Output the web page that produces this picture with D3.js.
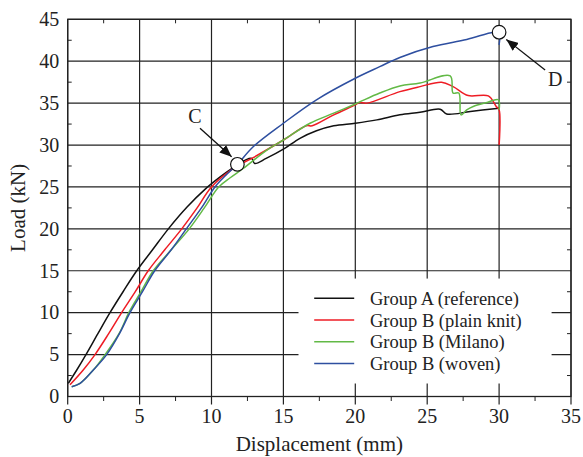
<!DOCTYPE html>
<html>
<head>
<meta charset="utf-8">
<script src="https://cdn.jsdelivr.net/npm/d3@7"></script>
<style>
  body { margin: 0; background: #fff; }
  text { font-family: "Liberation Serif", "Times New Roman", serif; fill: #222; }
</style>
</head>
<body>
<svg id="chart" width="583" height="457"></svg>
<script>
// values (displacement in mm, load in kN)
var groupAX = [0.04, 0.63, 1.27, 2.1, 2.94, 3.85, 4.8, 5.9, 7.0, 8.3, 9.6, 10.6, 11.4, 12.35, 12.8, 13.0, 13.8, 15.0, 16.15, 17.3, 18.5, 20.0, 21.5, 23.1, 24.5, 25.9, 26.35, 28.0, 30.0];
var groupAY = [1.57, 3.16, 5.0, 7.5, 10.0, 12.5, 15.0, 17.5, 20.0, 22.6, 24.8, 26.2, 27.2, 28.2, 28.4, 27.8, 28.4, 29.5, 30.8, 31.7, 32.3, 32.6, 33.0, 33.6, 33.9, 34.27, 33.7, 34.0, 34.4];

var plainKnitX = [0.16, 1.08, 1.9, 2.85, 3.75, 4.7, 5.6, 6.75, 7.93, 9.0, 10.0, 11.6, 12.9, 15.0, 16.6, 17.0, 18.5, 20.0, 20.3, 20.8, 23.1, 24.5, 26.0, 26.8, 27.85, 29.25, 29.8, 30.0, 30.0];
var plainKnitY = [1.4, 3.16, 5.0, 7.5, 10.0, 12.5, 15.0, 17.5, 20.0, 22.5, 25.0, 27.3, 28.5, 30.6, 32.3, 32.3, 33.6, 34.8, 35.06, 35.0, 36.37, 36.97, 37.5, 36.97, 35.9, 35.86, 34.6, 34.2, 30.0];

var milanoX = [0.28, 0.86, 1.78, 2.6, 3.6, 4.25, 5.1, 5.95, 7.2, 8.45, 9.5, 10.5, 11.3, 12.2, 13.85, 15.0, 16.85, 18.5, 20.0, 21.7, 23.1, 24.5, 26.6, 26.8, 27.2, 27.35, 27.75, 28.2, 29.1, 29.95, 30.0];
var milanoY = [1.17, 1.57, 3.16, 5.0, 7.6, 10.0, 12.5, 15.0, 17.5, 20.0, 22.5, 25.0, 26.1, 27.2, 29.4, 30.6, 32.6, 33.8, 34.9, 36.2, 37.05, 37.4, 38.25, 36.2, 36.2, 33.6, 34.2, 34.6, 35.05, 35.4, 34.2];

var wovenX = [0.28, 0.86, 1.78, 2.71, 3.6, 4.33, 5.2, 6.05, 7.2, 8.25, 9.3, 10.24, 11.0, 11.8, 12.9, 15.0, 17.3, 20.0, 21.7, 23.1, 25.4, 27.75, 29.6, 30.0, 30.0];
var wovenY = [1.17, 1.57, 3.16, 5.0, 7.5, 10.0, 12.5, 15.0, 17.5, 20.0, 22.5, 25.0, 26.4, 27.7, 29.8, 32.6, 35.4, 37.97, 39.35, 40.45, 41.75, 42.6, 43.46, 43.46, 41.95];

var seriesNames = ["Group A (reference)", "Group B (plain knit)", "Group B (Milano)", "Group B (woven)"];
var seriesColors = ["#111111", "#ee1c24", "#62b946", "#2e4fa0"];

var xTicks = [0, 5, 10, 15, 20, 25, 30, 35];
var yTicks = [0, 5, 10, 15, 20, 25, 30, 35, 40, 45];

// annotation points C and D, with arrow start/tip and label position
var annotations = [
  { label: "C", px: 11.8, py: 27.7, fromX: 9.2, fromY: 32.0, toX: 11.4, toY: 28.6, textX: 8.85, textY: 32.6 },
  { label: "D", px: 30.0, py: 43.46, fromX: 33.2, fromY: 38.96, toX: 30.5, toY: 42.6, textX: 33.9, textY: 37.05 }
];

var margin = { top: 19.3, right: 12, bottom: 60.5, left: 67.7 };
var width = 583 - margin.left - margin.right;
var height = 457 - margin.top - margin.bottom;

var svg = d3.select("#chart")
  .append("g")
  .attr("transform", "translate(" + margin.left + "," + margin.top + ")");

var xScale = d3.scaleLinear().domain([0, 35]).range([0, width]);
var yScale = d3.scaleLinear().domain([0, 45]).range([height, 0]);

// grid lines
svg.append("g")
  .selectAll("line")
  .data(xTicks)
  .enter()
  .append("line")
  .attr("x1", function (d) { return xScale(d); })
  .attr("x2", function (d) { return xScale(d); })
  .attr("y1", 0)
  .attr("y2", height + 8)
  .attr("stroke", "#222")
  .attr("stroke-width", 1.2);

svg.append("g")
  .selectAll("line")
  .data(yTicks)
  .enter()
  .append("line")
  .attr("x1", 0)
  .attr("x2", width)
  .attr("y1", function (d) { return yScale(d); })
  .attr("y2", function (d) { return yScale(d); })
  .attr("stroke", "#222")
  .attr("stroke-width", 1.2);

// minor ticks: bottom outside, the others inside
var xMinor = d3.range(2.5, 35, 5);
var yMinor = d3.range(2.5, 45, 5);
var minor = svg.append("g").attr("stroke", "#222").attr("stroke-width", 1);
xMinor.forEach(function (d) {
  minor.append("line").attr("x1", xScale(d)).attr("x2", xScale(d)).attr("y1", height).attr("y2", height + 4.5);
  minor.append("line").attr("x1", xScale(d)).attr("x2", xScale(d)).attr("y1", 0).attr("y2", 4);
});
yMinor.forEach(function (d) {
  minor.append("line").attr("x1", 0).attr("x2", 4).attr("y1", yScale(d)).attr("y2", yScale(d));
  minor.append("line").attr("x1", width - 4).attr("x2", width).attr("y1", yScale(d)).attr("y2", yScale(d));
});

// tick labels
svg.append("g")
  .selectAll("text")
  .data(xTicks)
  .enter()
  .append("text")
  .attr("x", function (d) { return xScale(d); })
  .attr("y", height + 27)
  .attr("text-anchor", "middle")
  .style("font-size", "20px")
  .text(function (d) { return d; });

svg.append("g")
  .selectAll("text")
  .data(yTicks)
  .enter()
  .append("text")
  .attr("x", -8.5)
  .attr("y", function (d) { return yScale(d); })
  .attr("dy", "0.34em")
  .attr("text-anchor", "end")
  .style("font-size", "20px")
  .text(function (d) { return d; });

svg.append("text")
  .attr("x", width / 2)
  .attr("y", height + 55)
  .attr("text-anchor", "middle")
  .style("font-size", "21px")
  .text("Displacement (mm)");

svg.append("text")
  .attr("transform", "translate(" + (-42.5) + "," + (height / 2) + ") rotate(-90)")
  .attr("text-anchor", "middle")
  .style("font-size", "21px")
  .text("Load (kN)");

// legend background hides the grid
svg.append("rect")
  .attr("x", xScale(16.05))
  .attr("y", yScale(14.07))
  .attr("width", xScale(33.65) - xScale(16.05))
  .attr("height", yScale(1.55) - yScale(14.07))
  .attr("fill", "#fff");

// curves
var line = d3.line()
  .curve(d3.curveCatmullRom.alpha(0.5))
  .x(function (d) { return xScale(d[0]); })
  .y(function (d) { return yScale(d[1]); });

var seriesData = [
  d3.zip(groupAX, groupAY),
  d3.zip(plainKnitX, plainKnitY),
  d3.zip(milanoX, milanoY),
  d3.zip(wovenX, wovenY)
];

svg.append("g")
  .selectAll("path")
  .data(seriesData)
  .enter()
  .append("path")
  .attr("d", line)
  .attr("fill", "none")
  .attr("stroke", function (d, i) { return seriesColors[i]; })
  .attr("stroke-width", 1.5)
  .attr("stroke-linejoin", "round");

// plot frame
svg.append("rect")
  .attr("width", width)
  .attr("height", height)
  .attr("fill", "none")
  .attr("stroke", "#222")
  .attr("stroke-width", 1.3);

// legend
var legend = svg.append("g").attr("class", "legend");
legend.selectAll("line")
  .data(seriesNames)
  .enter()
  .append("line")
  .attr("x1", 246.5)
  .attr("x2", 286.5)
  .attr("y1", function (d, i) { return 279 + i * 21.7; })
  .attr("y2", function (d, i) { return 279 + i * 21.7; })
  .attr("stroke", function (d, i) { return seriesColors[i]; })
  .attr("stroke-width", 1.5);

legend.selectAll("text")
  .data(seriesNames)
  .enter()
  .append("text")
  .attr("x", 302.3)
  .attr("y", function (d, i) { return 286.2 + i * 21.5; })
  .style("font-size", "18.5px")
  .text(function (d) { return d; });

// annotations
svg.append("defs")
  .append("marker")
  .attr("id", "arrow")
  .attr("viewBox", "0 0 12 10")
  .attr("refX", 12)
  .attr("refY", 5)
  .attr("markerWidth", 12)
  .attr("markerHeight", 10)
  .attr("markerUnits", "userSpaceOnUse")
  .attr("orient", "auto")
  .append("path")
  .attr("d", "M0,0L12,5L0,10Z")
  .attr("fill", "#111");

var notes = svg.append("g").selectAll("g")
  .data(annotations)
  .enter()
  .append("g");

notes.append("line")
  .attr("x1", function (d) { return xScale(d.fromX); })
  .attr("y1", function (d) { return yScale(d.fromY); })
  .attr("x2", function (d) { return xScale(d.toX); })
  .attr("y2", function (d) { return yScale(d.toY); })
  .attr("stroke", "#111")
  .attr("stroke-width", 1.3)
  .attr("marker-end", "url(#arrow)");

notes.append("circle")
  .attr("cx", function (d) { return xScale(d.px); })
  .attr("cy", function (d) { return yScale(d.py); })
  .attr("r", 6.8)
  .attr("fill", "#fff")
  .attr("stroke", "#111")
  .attr("stroke-width", 1.2);

notes.append("text")
  .attr("x", function (d) { return xScale(d.textX); })
  .attr("y", function (d) { return yScale(d.textY); })
  .attr("text-anchor", "middle")
  .style("font-size", "20px")
  .text(function (d) { return d.label; });
</script>
</body>
</html>
